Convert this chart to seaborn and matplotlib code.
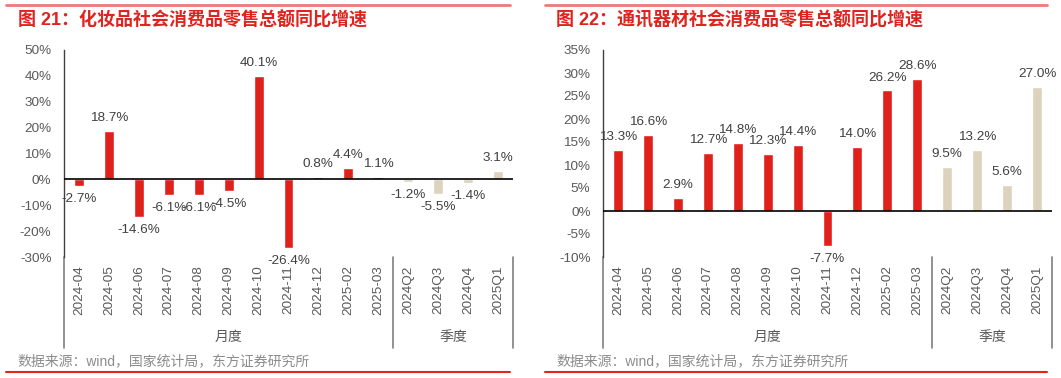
import matplotlib
matplotlib.use('Agg')
import matplotlib.pyplot as plt
import seaborn as sns
import pandas as pd
from matplotlib.lines import Line2D

# --- data ---
month_labels = ['2024-04', '2024-05', '2024-06', '2024-07', '2024-08', '2024-09',
                '2024-10', '2024-11', '2024-12', '2025-02', '2025-03']
quarter_labels = ['2024Q2', '2024Q3', '2024Q4', '2025Q1']

cosmetics_month = [-2.7, 18.7, -14.6, -6.1, -6.1, -4.5, 40.1, -26.4, 0.8, 4.4, 1.1]
cosmetics_quarter = [-1.2, -5.5, -1.4, 3.1]

telecom_month = [13.3, 16.6, 2.9, 12.7, 14.8, 12.3, 14.4, -7.7, 14.0, 26.2, 28.6]
telecom_quarter = [9.5, 13.2, 5.6, 27.0]

cosmetics_yticks = [-30, -20, -10, 0, 10, 20, 30, 40, 50]
telecom_yticks = [-10, -5, 0, 5, 10, 15, 20, 25, 30, 35]

W, H = 1061, 378
RED = '#E0201B'
BEIGE = '#DDD3BC'

sns.set_style('white')
plt.rcParams['font.family'] = ['Liberation Sans', 'Noto Sans CJK SC']
plt.rcParams['axes.unicode_minus'] = False

fig = plt.figure(figsize=(W / 100, H / 100), dpi=100)


def make_df(month_vals, quarter_vals):
    return pd.DataFrame({
        'cat': month_labels + quarter_labels,
        'val': month_vals + quarter_vals,
        'grp': ['月度'] * len(month_labels) + ['季度'] * len(quarter_labels),
    })


def draw_panel(left_px, title, title_x, src_x, line_x, month_vals, quarter_vals, yticks):
    ax_top, ax_bot = 50, 257
    ax = fig.add_axes([left_px / W, 1 - ax_bot / H, 449 / W, (ax_bot - ax_top) / H])
    df = make_df(month_vals, quarter_vals)
    sns.barplot(data=df, x='cat', y='val', hue='grp', palette={'月度': RED, '季度': BEIGE},
                width=0.33, legend=False, ax=ax, saturation=1)

    ax.set_xlim(-0.5, len(df) - 0.5)
    ax.set_ylim(yticks[0], yticks[-1])
    ax.set_yticks(yticks)
    ax.set_yticklabels([f'{v}%' for v in yticks])
    ax.set_xlabel('')
    ax.set_ylabel('')
    ax.axhline(0, color='black', lw=1.2, zorder=3)

    for s in ['top', 'right', 'bottom']:
        ax.spines[s].set_visible(False)
    ax.spines['left'].set_color('#404040')
    ax.spines['left'].set_linewidth(1.0)
    ax.tick_params(axis='y', direction='in', length=3, width=1, color='#404040',
                   labelsize=9.7, labelcolor='#595959', pad=9)
    ax.tick_params(axis='x', length=0, pad=6, labelsize=9.7, labelcolor='#595959',
                   rotation=90)

    # value labels
    for i, v in enumerate(df['val']):
        if v >= 0:
            ax.annotate(f'{v:.1f}%', (i, v), xytext=(0, 5), textcoords='offset points',
                        ha='center', va='bottom', fontsize=9.7, color='#404040')
        else:
            ax.annotate(f'{v:.1f}%', (i, v), xytext=(0, -5), textcoords='offset points',
                        ha='center', va='top', fontsize=9.7, color='#404040')

    # category frame below the axis
    ext = -(348 - ax_bot) / (ax_bot - ax_top)
    ax.plot([0, 0], [ext, 0], transform=ax.transAxes, clip_on=False, color='#7f7f7f', lw=1.2)
    split = len(month_labels) - 0.5
    for xs in [split, len(df) - 0.5]:
        ax.plot([xs, xs], [ext, 0], transform=ax.get_xaxis_transform(), clip_on=False,
                color='#7f7f7f', lw=1.2)
    gy = -(337 - ax_bot) / (ax_bot - ax_top)
    ax.text((-0.5 + split) / 2, gy, '月度', transform=ax.get_xaxis_transform(),
            ha='center', va='center', fontsize=10, color='#595959')
    ax.text((split + len(df) - 0.5) / 2, gy, '季度', transform=ax.get_xaxis_transform(),
            ha='center', va='center', fontsize=10, color='#595959')

    # title, source and red rules
    fig.text(title_x / W, 1 - 20 / H, title, color='#E0231E', fontsize=13,
             fontweight='bold', va='center')
    fig.text(src_x / W, 1 - 361 / H, '数据来源：wind，国家统计局，东方证券研究所',
             fontsize=10, color='#8c8c8c', va='center')
    fig.add_artist(Line2D([line_x[0] / W, line_x[1] / W], [1 - 5 / H, 1 - 5 / H],
                          transform=fig.transFigure, color='#EE7A75', lw=2))
    fig.add_artist(Line2D([line_x[0] / W, line_x[1] / W], [1 - 372 / H, 1 - 372 / H],
                          transform=fig.transFigure, color='#E8231E', lw=1.5))
    return ax


draw_panel(64, '图 21：化妆品社会消费品零售总额同比增速', 18, 17, (6, 510),
           cosmetics_month, cosmetics_quarter, cosmetics_yticks)
draw_panel(603, '图 22：通讯器材社会消费品零售总额同比增速', 556, 556, (545, 1047),
           telecom_month, telecom_quarter, telecom_yticks)

fig.savefig('out.png', dpi=100)
